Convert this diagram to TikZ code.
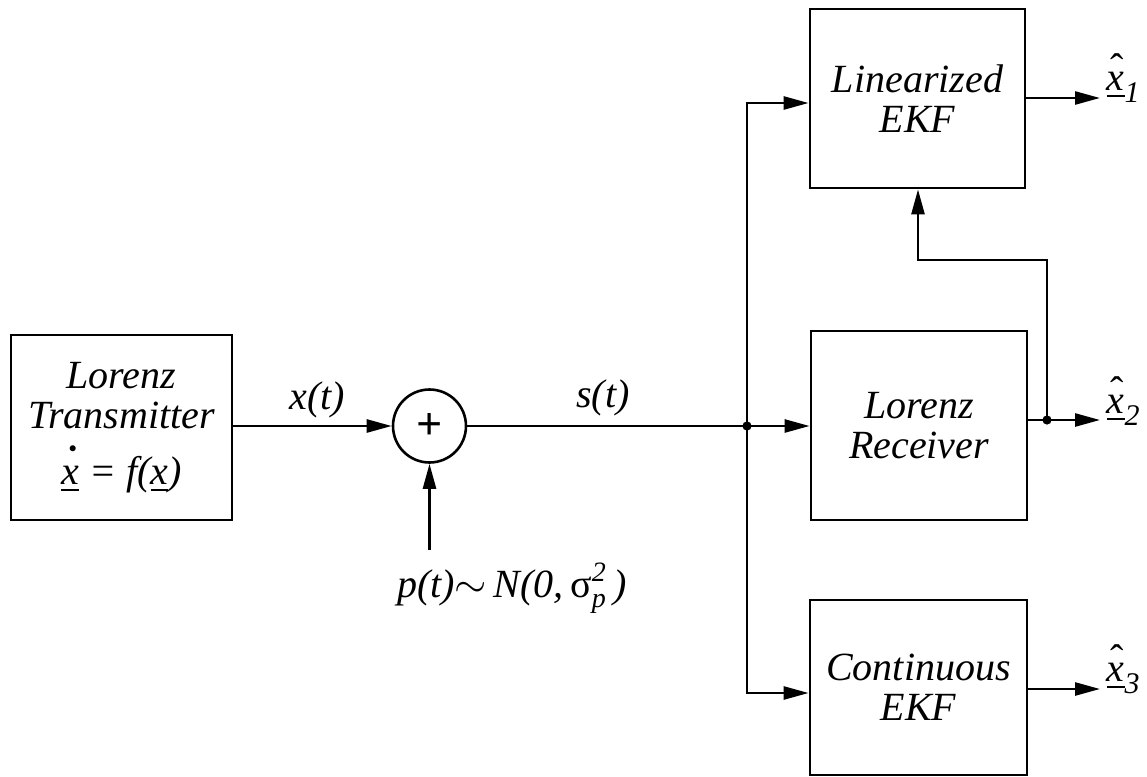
\documentclass[tikz,border=0pt]{standalone}
\usepackage{amsmath}
\usepackage{fontspec}
\setmainfont{Liberation Serif}
\usetikzlibrary{arrows.meta}

\tikzset{
  blk/.style={draw, line width=1.4pt, align=center, inner sep=0pt},
  sumnode/.style={draw, circle, line width=1.3pt, minimum size=36.5pt, inner sep=0pt},
  lbl/.style={inner sep=0.75pt},
  wire/.style={line width=1.3pt},
  sig/.style={wire, -{Triangle[length=12.5pt,width=6.5pt]}},
}
\newcommand{\ulx}{\underline{x}}
\newcommand{\xdot}{\rlap{\hspace{2.4pt}\raisebox{5.5pt}{\upshape\bfseries ˙}}\ulx}
\newcommand{\xhat}[1]{\rlap{\hspace{1.6pt}\raisebox{4.5pt}{\upshape ˆ}}\ulx\raisebox{-6pt}{\fontsize{15}{15}\selectfont #1}}

\begin{document}
\begin{tikzpicture}[x=0.5pt,y=-0.5pt,font=\fontsize{20}{20}\selectfont\itshape]
\useasboundingbox (0,0) rectangle (1147,777);

% Blocks
\node [blk, minimum width=110.5pt, minimum height=92.5pt] (tx) at (121.5,427.5) {Lorenz\\Transmitter\\[8pt]\xdot{} = f(\ulx)};
\node [sumnode] (sum) at (429.5,426) {\fontsize{23}{23}\selectfont\upshape\bfseries +};
\node [blk, minimum width=107.5pt, minimum height=89.5pt] (lin) at (917.5,98.5) {Linearized\\EKF};
\node [blk, minimum width=108pt, minimum height=94.5pt] (rx) at (919,425.5) {Lorenz\\Receiver};
\node [blk, minimum width=108.5pt, minimum height=87.5pt] (cont) at (918.5,687.5) {Continuous\\EKF};

% Branch points
\coordinate (j) at (747,426);
\coordinate (jtop) at (747,103);
\coordinate (jbot) at (747,693);
\coordinate (tap) at (1047,420);
\coordinate (fb) at (918,260);
\coordinate (noise) at (429.5,550);
\coordinate (o1) at (1100,98);
\coordinate (o2) at (1100,420);
\coordinate (o3) at (1100,689);

% Connectors
\draw [sig] (tx.east |- sum) -- (sum.west);
\draw [sig] (noise) -- (sum.south);
\draw [wire] (sum.east) -- (j);
\draw [sig] (j) -- (rx.west |- j);
\draw [sig] (j) |- (lin.west |- jtop);
\draw [sig] (j) |- (cont.west |- jbot);
\draw [sig] (lin.east |- o1) -- (o1);
\draw [sig] (rx.east |- tap) -- (o2);
\draw [sig] (tap) |- (fb) -- (lin.south -| fb);
\draw [sig] (cont.east |- o3) -- (o3);
\fill (j) circle (2.3pt);
\fill (tap) circle (2.3pt);

% Text Node
\node [lbl] (xt) at (317,400) {x(t)};
% Text Node
\node [lbl] (st) at (603,398) {s(t)};
% Text Node
\node [lbl, anchor=base] (nz) at (512,597) {p(t)$\sim$\,N(0,\,$\text{\upshape σ}^{\textit{2}}_{\textit{p}}$\,)};
% Text Node
\node [lbl, anchor=base west] (xh1) at (1105,90) {\xhat{1}};
% Text Node
\node [lbl, anchor=base west] (xh2) at (1105,413) {\xhat{2}};
% Text Node
\node [lbl, anchor=base west] (xh3) at (1105,681) {\xhat{3}};
\end{tikzpicture}
\end{document}
